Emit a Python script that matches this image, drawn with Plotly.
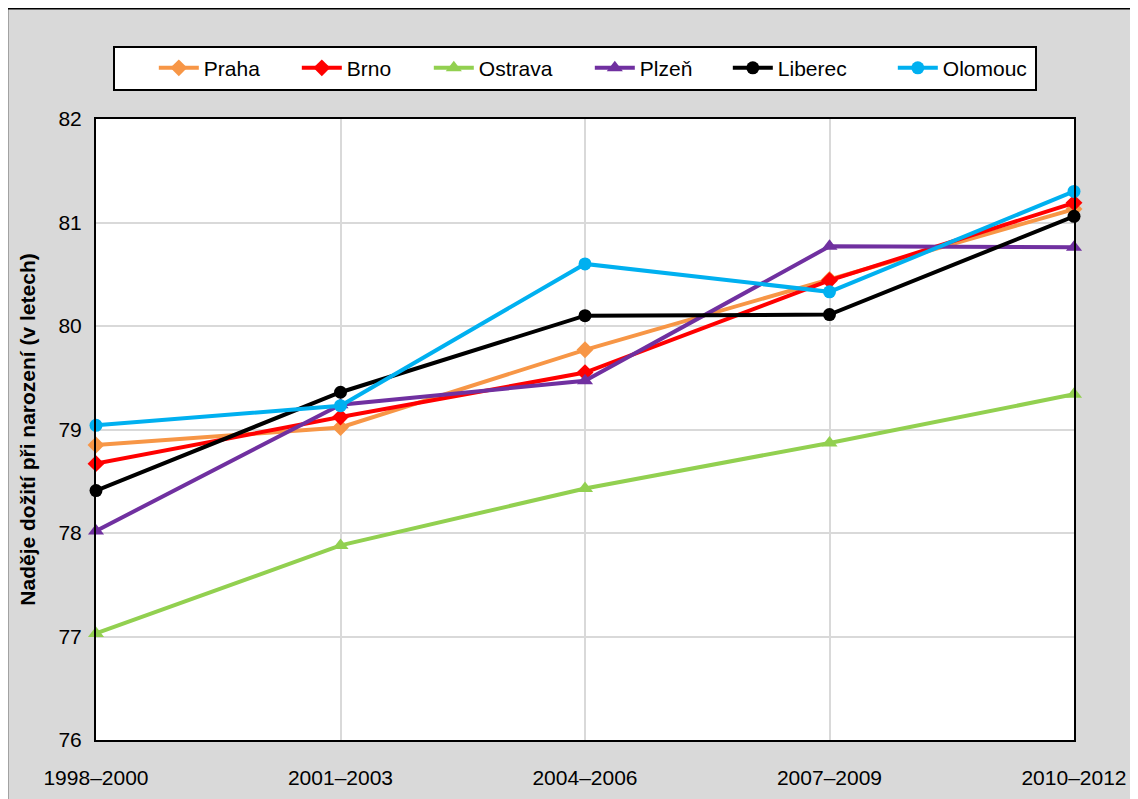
import plotly.graph_objects as go

periods = ["1998–2000", "2001–2003", "2004–2006", "2007–2009", "2010–2012"]

praha = [78.85, 79.02, 79.77, 80.45, 81.13]
brno = [78.67, 79.12, 79.55, 80.44, 81.19]
ostrava = [77.03, 77.88, 78.43, 78.87, 79.34]
plzen = [78.02, 79.24, 79.47, 80.77, 80.76]
liberec = [78.41, 79.36, 80.10, 80.11, 81.06]
olomouc = [79.04, 79.23, 80.60, 80.33, 81.30]

# name, values, colour, marker, marker size, legend entry width
series = [
    ("Praha", praha, "#F79646", "diamond", 13, 88),
    ("Brno", brno, "#FF0000", "diamond", 13, 77),
    ("Ostrava", ostrava, "#92D050", "triangle-up", 14, 106),
    ("Plzeň", plzen, "#7030A0", "triangle-up", 14, 83),
    ("Liberec", liberec, "#000000", "circle", 13, 110),
    ("Olomouc", olomouc, "#00B0F0", "circle", 13, 86),
]

fig = go.Figure()
for name, vals, color, symbol, size, lw in series:
    fig.add_trace(
        go.Scatter(
            x=periods,
            y=vals,
            name=name,
            mode="lines+markers",
            line=dict(color=color, width=4),
            marker=dict(symbol=symbol, size=size, color=color),
            cliponaxis=False,
            legendwidth=lw,
        )
    )

# outer chart frame (left and top edges visible); page body adds 8px offset
fig.add_shape(
    type="rect", xref="paper", yref="paper",
    x0=-0.0910, x1=1.08, y0=-0.15, y1=1.1785,
    line=dict(color="black", width=2.5), layer="below",
)

fig.update_layout(
    width=1138,
    height=799,
    paper_bgcolor="#D9D9D9",
    plot_bgcolor="white",
    margin=dict(l=88, r=72, t=111, b=67),
    font=dict(family="Arial, Liberation Sans, sans-serif", size=21, color="black"),
    legend=dict(
        orientation="h",
        x=0.017,
        xanchor="left",
        y=1.118,
        yanchor="top",
        bgcolor="white",
        bordercolor="black",
        borderwidth=2,
        font=dict(size=21),
        itemwidth=40,
        # blank title only to pad the box on the left
        title=dict(text="\u00a0\u00a0\u00a0\u00a0\u00a0", side="left", font=dict(size=21)),
    ),
    xaxis=dict(
        type="category",
        range=[0, 4],
        showgrid=True,
        gridcolor="#D9D9D9",
        gridwidth=1.5,
        showline=True,
        linecolor="black",
        linewidth=2,
        mirror=True,
        ticks="",
        ticklabelstandoff=18,
        tickfont=dict(size=21),
    ),
    yaxis=dict(
        range=[76, 82],
        dtick=1,
        showgrid=True,
        gridcolor="#D9D9D9",
        gridwidth=1.5,
        showline=True,
        linecolor="black",
        linewidth=2,
        mirror=True,
        ticks="",
        ticklabelstandoff=8,
        tickfont=dict(size=21),
        title=dict(
            text="<b>Naděje dožití při narození (v letech)</b>",
            font=dict(size=21),
            standoff=17,
        ),
        zeroline=False,
    ),
)

fig.write_html("out.html")
